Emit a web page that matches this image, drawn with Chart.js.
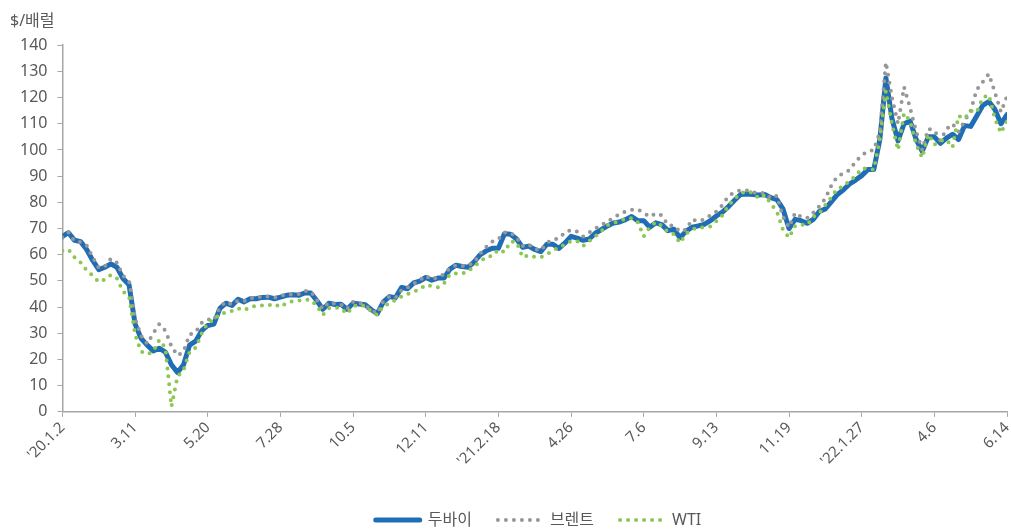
<!DOCTYPE html>
<html>
<head>
<meta charset="utf-8">
<script src="https://cdn.jsdelivr.net/npm/chart.js@4.4.1/dist/chart.umd.min.js"></script>
<style>
  html, body { margin: 0; padding: 0; background: #fff; }
  #wrap { width: 1011px; height: 529px; }
</style>
</head>
<body>
<div id="wrap"><canvas id="chart"></canvas></div>
<script>
// Daily oil prices ('20.1.2 ~ '22.6.14), one point every 4 trading days
const tickLabels = ["'20.1.2", '3.11', '5.20', '7.28', '10.5', '12.11', "'21.2.18", '4.26', '7.6', '9.13', '11.19', "'22.1.27", '4.6', '6.14'];
const seriesNames = ['두바이', '브렌트', 'WTI'];

const dubai = [
  67, 68.4, 65.5, 65, 62, 57.8, 54.3, 55.2, 56.5, 55.2,
  50.9, 48.5, 33.5, 28, 25.5, 23.3, 24.3, 22.8, 18, 15,
  18, 25.5, 27, 31, 33, 33.5, 39.5, 41.5, 40.6, 43,
  42, 43.2, 43.2, 43.7, 43.8, 43.2, 43.8, 44.5, 44.7, 44.5,
  45.4, 45.4, 42.5, 39.2, 41.5, 41, 41.1, 39.2, 41.5, 41.2,
  40.9, 39, 37.5, 42, 44, 43.6, 47.5, 47, 49.2, 49.9,
  51.3, 50.3, 51.1, 51.1, 54.5, 56, 55.5, 55.2, 57.3, 60,
  61.5, 62.5, 62.5, 68, 67.8, 66, 62.8, 63.3, 62, 61.2,
  64, 64, 62.4, 64.5, 67, 66.3, 65.5, 66, 68.2, 69.6,
  71, 72.1, 72.5, 73.4, 74.6, 73, 73, 70.5, 72.2, 71.5,
  69.2, 69.7, 66.5, 69, 70.5, 71, 71.6, 73, 74.8, 76.3,
  78.4, 80.8, 83, 83.2, 83, 82.8, 83, 81.8, 81, 77.5,
  70, 73.5, 73, 72, 73.5, 76.5, 77.5, 80.3, 83, 84.8,
  87, 88.5, 90.2, 92.5, 92.5, 104, 127.5, 112, 103.5, 110,
  111, 104, 99.5, 105, 105, 102.5, 104.5, 106, 104, 109.3,
  109, 113, 117, 118.5, 115.5, 110, 113.5
];
const brent = [
  66.5, 68.5, 65.2, 64.8, 63.5, 59, 55, 55.5, 58.5, 57,
  52, 50, 35.5, 29, 26, 30, 33.5, 31, 25, 21.5,
  23, 29.5, 30.5, 34, 35.3, 35, 40, 42, 41, 42.5,
  42.3, 43.5, 43.3, 44.3, 44, 43.6, 44.2, 45, 44.8, 45,
  46.2, 46, 42.7, 39.3, 41.8, 41.3, 41, 39.3, 42, 41.6,
  40.8, 38.8, 37.6, 42.3, 44, 43.5, 46.5, 47.5, 49, 50.2,
  52, 50.5, 51.5, 52.5, 55, 56, 55.6, 56, 57, 60.5,
  63, 65, 66, 68.5, 68.5, 66.5, 63.3, 64, 62.2, 61.6,
  64.5, 65.8, 66.2, 68.5, 69.5, 68.8, 67, 68.5, 70, 71.2,
  72.8, 74, 75.5, 76.5, 77.2, 77.3, 76, 74.5, 75.8, 75,
  71.3, 71, 68.8, 69.6, 73.5, 72.8, 73.5, 75, 76.5, 79,
  82.5, 83.8, 84.6, 84.6, 83.8, 83.8, 83.4, 81.5, 82.5, 74.5,
  70.5, 76, 74.5, 74, 76, 78.5, 81.5, 86.5, 90, 91,
  92.3, 95.5, 98, 99.5, 100, 106.8, 133.5, 120, 110, 124,
  116, 107, 100, 108, 107.5, 103.5, 108, 110, 107, 111,
  115, 123, 126, 129, 122, 114.5, 120.5
];
const wti = [
  61.5, 62, 59, 57, 54, 52, 49.6, 50.5, 52.3, 51,
  46, 44, 29.5, 23, 22, 23, 27.5, 24.5, 2, 13.5,
  16, 23, 24.5, 30, 34, 35, 37.5, 37.8, 38.5, 39.5,
  38.8, 40, 40.5, 40.6, 40.6, 41.2, 40, 41.5, 42.2, 42.5,
  42.8, 42.8, 40.5, 37, 39.5, 39.9, 39.6, 37.5, 40.3, 40.9,
  40.3, 38.5, 37, 40.5, 41.3, 42.8, 44, 45, 46, 46.7,
  48.5, 48, 47.6, 49, 52.5, 52.8, 52.7, 53.8, 55.5, 57.5,
  59.2, 59.5, 62, 61, 65, 64.8, 59, 59.8, 59.2, 59,
  60.2, 61.4, 63, 63.8, 65.2, 65.2, 63.3, 65.2, 67, 69,
  71.3, 72, 73, 73.5, 74, 72.5, 67, 70.5, 72.5, 71,
  68.7, 67.8, 64.5, 68, 69.7, 70.3, 70.5, 70.8, 72.8, 75,
  78.8, 81.3, 83.5, 84.2, 83.7, 81.5, 82.8, 79.5, 76.5, 69.5,
  66.5, 71, 71.5, 71.3, 74.5, 75.9, 79, 82, 85.4, 86,
  88.3, 90, 93, 92.8, 92.5, 104, 122.5, 110, 100, 114,
  111, 102, 97, 106, 102, 103.5, 104, 101, 113, 112,
  115, 114.4, 120, 121, 112, 106.5, 111
];

const textColor = '#595959';
const axisColor = '#a6a6a6';
const fontFamily = "'Noto Sans', 'Noto Sans CJK KR', sans-serif";

const toPoints = arr => arr.map((y, i) => ({ x: i, y }));

// the legend in the original sits a little right of centre
const legendShift = {
  id: 'legendShift',
  afterLayout(chart, args, opts) {
    chart.legend.left += opts.dx;
    chart.legend.right += opts.dx;
  }
};

const chart = new Chart(document.getElementById('chart'), {
  type: 'line',
  data: {
    datasets: [
      {
        label: seriesNames[0], data: toPoints(dubai),
        borderColor: '#1f6db6', backgroundColor: '#1f6db6',
        borderWidth: 5, borderJoinStyle: 'round', borderCapStyle: 'round',
        pointRadius: 0, order: 3
      },
      {
        label: seriesNames[1], data: toPoints(brent),
        borderColor: '#979797', backgroundColor: '#979797',
        borderWidth: 4, borderDash: [0, 8], borderCapStyle: 'round',
        pointRadius: 0, order: 2
      },
      {
        label: seriesNames[2], data: toPoints(wti),
        borderColor: '#8cc751', backgroundColor: '#8cc751',
        borderWidth: 4, borderDash: [0, 8], borderCapStyle: 'round',
        pointRadius: 0, order: 1
      }
    ]
  },
  plugins: [legendShift],
  options: {
    responsive: true,
    maintainAspectRatio: false,
    animation: false,
    layout: { padding: { left: 10, right: 4, top: 12, bottom: -9 } },
    scales: {
      x: {
        type: 'linear', min: 0, max: dubai.length - 1,
        grid: { drawOnChartArea: false, drawTicks: true, tickLength: 5, color: axisColor },
        border: { display: true, color: axisColor, width: 1.5 },
        ticks: {
          stepSize: 12, autoSkip: false, maxRotation: 45, minRotation: 45,
          color: textColor, font: { family: fontFamily, size: 15 }, padding: 2,
          callback: v => tickLabels[v / 12]
        },
        afterFit: s => { s.height += 14; s.paddingRight = 0; }
      },
      y: {
        min: 0, max: 140,
        grid: { drawOnChartArea: false, drawTicks: true, tickLength: 5, color: axisColor },
        border: { display: true, color: axisColor, width: 1.5 },
        ticks: { stepSize: 10, color: textColor, font: { family: fontFamily, size: 16 }, padding: 10 }
      }
    },
    plugins: {
      legendShift: { dx: 30 },
      title: {
        display: true, text: '$/배럴', align: 'start', color: textColor,
        font: { family: fontFamily, size: 16, weight: 'normal' },
        padding: { top: 0, bottom: 14 }
      },
      legend: {
        position: 'bottom',
        labels: {
          usePointStyle: true, pointStyle: 'line', pointStyleWidth: 44,
          color: textColor, font: { family: fontFamily, size: 16 }, padding: 26,
          sort: (a, b) => a.datasetIndex - b.datasetIndex,
          generateLabels: c => Chart.defaults.plugins.legend.labels.generateLabels(c).map(item => {
            const ds = c.data.datasets[item.datasetIndex];
            item.lineWidth = ds.borderWidth;
            item.lineDash = ds.borderDash || [];
            item.lineCap = ds.borderCapStyle;
            item.strokeStyle = ds.borderColor;
            return item;
          })
        }
      },
      tooltip: { enabled: false }
    }
  }
});
</script>
</body>
</html>
